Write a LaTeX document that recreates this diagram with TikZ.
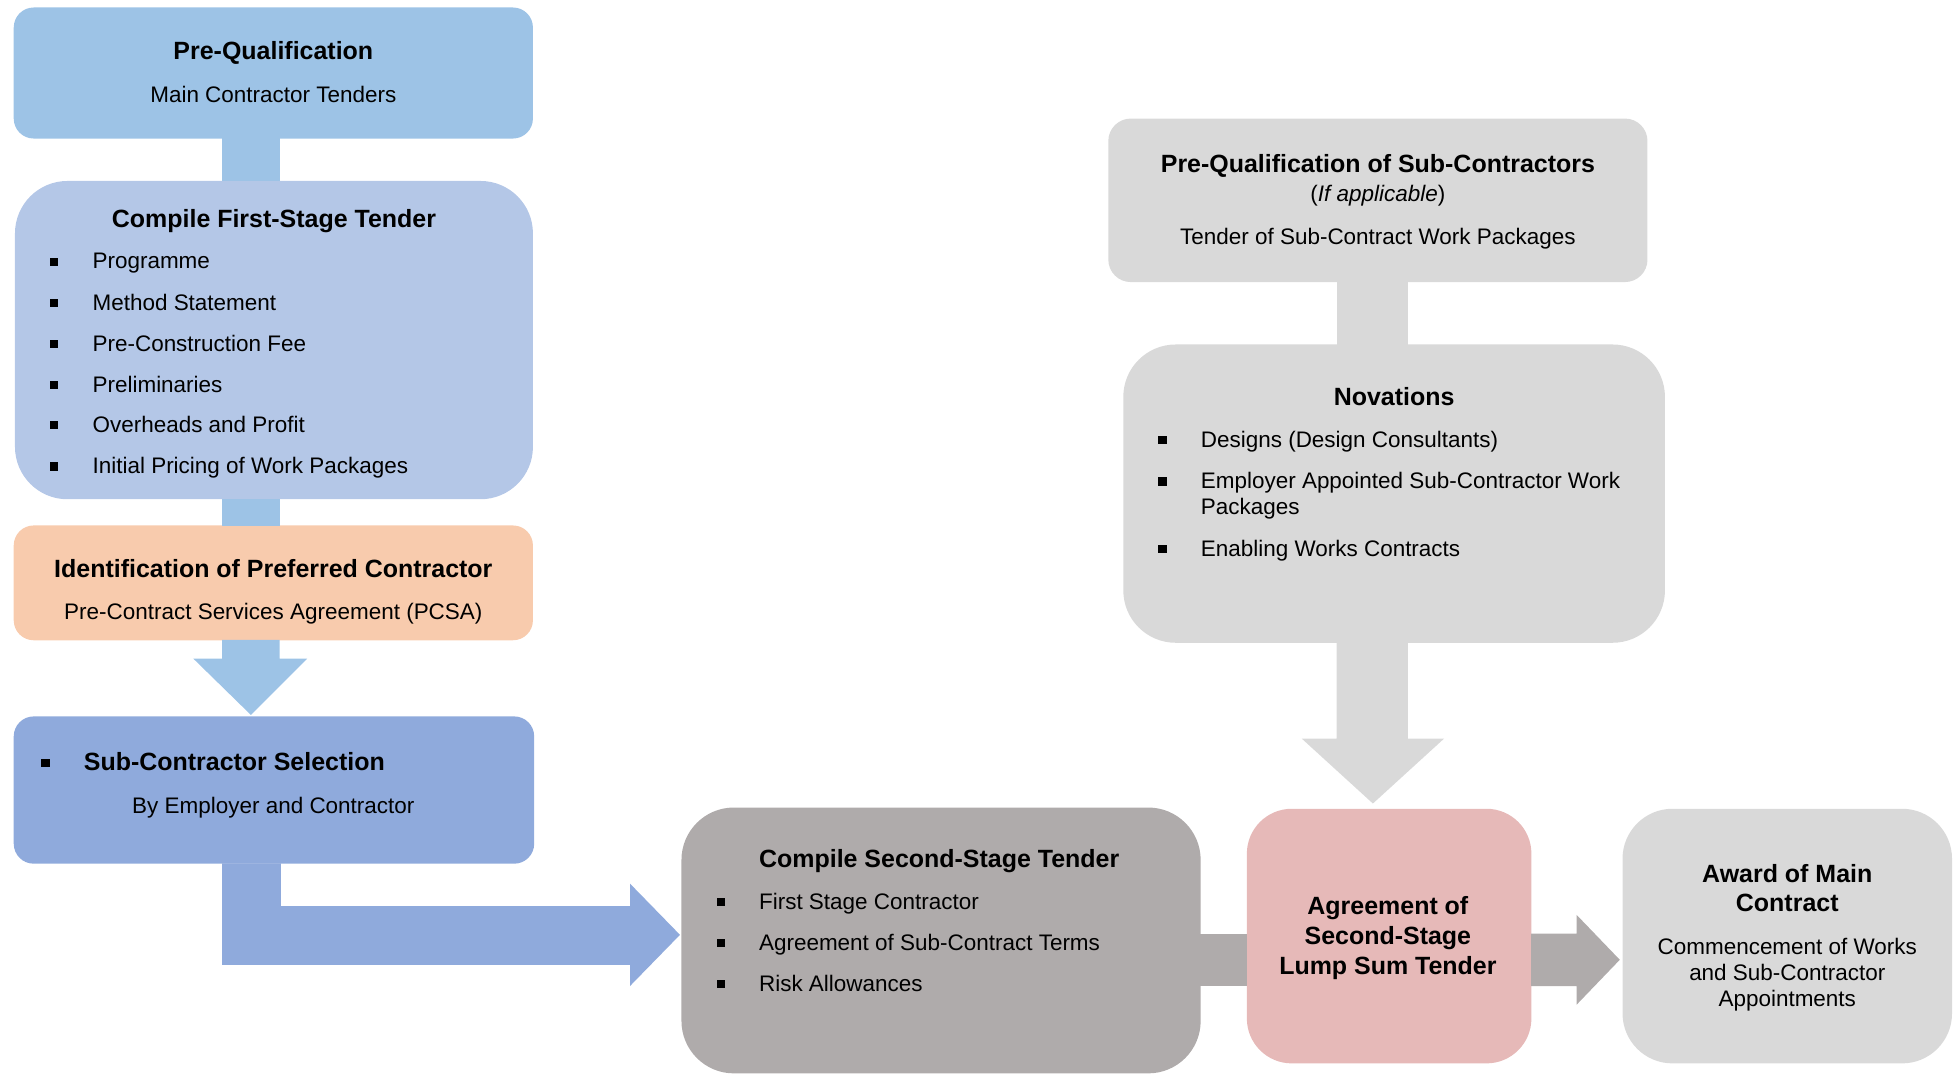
\documentclass[tikz,border=0pt]{standalone}
\usepackage{fontspec}
\setmainfont{Liberation Sans}
\usetikzlibrary{calc}
\definecolor{cPQ}{HTML}{9DC3E6}
\definecolor{cFS}{HTML}{B4C7E7}
\definecolor{cID}{HTML}{F8CBAD}
\definecolor{cSel}{HTML}{8FAADC}
\definecolor{cSec}{HTML}{AFABAB}
\definecolor{cAgr}{HTML}{E6B9B8}
\definecolor{cLG}{HTML}{D9D9D9}
\newcommand\bul{\makebox[34pt][l]{\raisebox{2.5pt}{\rule{6.5pt}{6.5pt}}}}
\begin{document}
\begin{tikzpicture}[x=1pt,y=-1pt,
 box/.style={rectangle, inner sep=0pt, draw=none},
 sm/.style={rounded corners=16pt},
 lg/.style={rounded corners=42pt},
 ttl/.style={inner sep=0pt, anchor=base, font=\fontsize{20}{24}\selectfont\bfseries},
 txt/.style={inner sep=0pt, anchor=base, font=\fontsize{18}{21}\selectfont},
 itm/.style={inner sep=0pt, anchor=base west, font=\fontsize{18}{21}\selectfont},
]
\useasboundingbox (0,0) rectangle (1568,862);
% boxes
\node[box, sm, fill=cPQ, minimum width=416pt, minimum height=105pt] (pq) at (219,58.5) {};
\node[box, lg, fill=cFS, minimum width=415pt, minimum height=255pt] (fs) at (219.5,272.5) {};
\node[box, sm, fill=cID, minimum width=416pt, minimum height=92pt] (id) at (219,467) {};
\node[box, sm, fill=cSel, minimum width=417pt, minimum height=118pt] (sel) at (219.5,633) {};
\node[box, lg, fill=cSec, minimum width=416pt, minimum height=213pt] (sec) at (754,753.5) {};
\node[box, rounded corners=36pt, fill=cAgr, minimum width=228pt, minimum height=204pt] (agr) at (1113,750) {};
\node[box, rounded corners=40pt, fill=cLG, minimum width=264pt, minimum height=204pt] (awd) at (1432,750) {};
\node[box, rounded corners=18pt, fill=cLG, minimum width=432pt, minimum height=131pt] (pqs) at (1104,160.5) {};
\node[box, lg, fill=cLG, minimum width=434pt, minimum height=239pt] (nov) at (1117,395.5) {};
% connectors
\fill[cPQ] ($(pq.south)+(-41,-0.5)$) rectangle ($(fs.north)+(4.5,0.5)$);
\fill[cPQ] ($(fs.south)+(-41.5,-0.5)$) rectangle ($(id.north)+(5,0.5)$);
\fill[cPQ] ($(id.south)+(-41,-0.5)$) -- ($(id.south)+(5,-0.5)$) -- ($(sel.north)+(4.5,-46)$)
  -- ($(sel.north)+(26.5,-46)$) -- ($(sel.north)+(-18.5,-1)$) -- ($(sel.north)+(-64.5,-46)$)
  -- ($(sel.north)+(-41.5,-46)$) -- cycle;
\coordinate (etip) at ($(sec.west)+(-1,-4.5)$);
\coordinate (e1) at ($(sel.south)+(5.5,0)$);
\coordinate (e2) at ($(etip)+(0,-23)$);
\coordinate (e3) at ($(sel.south)+(-41.5,0)$);
\coordinate (e4) at ($(etip)+(0,24)$);
\fill[cSel] ($(sel.south)+(-41.5,-0.5)$) -- (e3 |- e4) -- ($(etip)+(-40,24)$) -- ($(etip)+(-40,41)$)
  -- (etip) -- ($(etip)+(-40,-41)$) -- ($(etip)+(-40,-23)$) -- (e1 |- e2)
  -- ($(sel.south)+(5.5,-0.5)$) -- cycle;
\fill[cSec] ($(sec.east)+(-0.5,-5.5)$) rectangle ($(agr.west)+(0.5,40)$);
\fill[cSec] ($(agr.east)+(-0.5,-2)$) -- ($(agr.east)+(36,-2)$) -- ($(agr.east)+(36,-17)$)
  -- ($(awd.west)+(-2,19)$) -- ($(agr.east)+(36,55)$) -- ($(agr.east)+(36,40)$)
  -- ($(agr.east)+(-0.5,40)$) -- cycle;
\fill[cLG] ($(pqs.south)+(-33,-0.5)$) rectangle ($(nov.north)+(11,0.5)$);
\fill[cLG] ($(nov.south)+(-46,-0.5)$) -- ($(nov.south)+(11,-0.5)$) -- ($(agr.north)+(15,-56)$)
  -- ($(agr.north)+(44,-56)$) -- ($(agr.north)+(-13,-4)$) -- ($(agr.north)+(-70,-56)$)
  -- ($(agr.north)+(-42,-56)$) -- cycle;
% texts
\node[ttl] (t1) at (219,48) {Pre-Qualification};
\node[txt] (t2) at (219,82.5) {Main Contractor Tenders};
\node[ttl] (t3) at (219.5,182) {Compile First-Stage Tender};
\node[itm] (b1) at (40,215.5) {\bul Programme};
\node[itm] (b2) at (40,248.5) {\bul Method Statement};
\node[itm] (b3) at (40,281.5) {\bul Pre-Construction Fee};
\node[itm] (b4) at (40,314.5) {\bul Preliminaries};
\node[itm] (b5) at (40,346.5) {\bul Overheads and Profit};
\node[itm] (b6) at (40,379.5) {\bul Initial Pricing of Work Packages};
\node[ttl] (t4) at (219,463) {Identification of Preferred Contractor};
\node[txt] (t5) at (219,496.5) {Pre-Contract Services Agreement (PCSA)};
\node[itm, font=\fontsize{20}{24}\selectfont\bfseries] (t6) at (33,617) {\bul Sub-Contractor Selection};
\node[txt] (t7) at (219,651.5) {By Employer and Contractor};
\node[ttl, anchor=base west] (t8) at (608,695) {Compile Second-Stage Tender};
\node[itm] (c1) at (574,728.5) {\bul First Stage Contractor};
\node[itm] (c2) at (574,761.5) {\bul Agreement of Sub-Contract Terms};
\node[itm] (c3) at (574,794.5) {\bul Risk Allowances};
\node[ttl] (a1) at (1112,733) {Agreement of};
\node[ttl] (a2) at (1112,757) {Second-Stage};
\node[ttl] (a3) at (1112,781) {Lump Sum Tender};
\node[ttl] (w1) at (1432,707) {Award of Main};
\node[ttl] (w2) at (1432,730) {Contract};
\node[txt] (w3) at (1432,764.5) {Commencement of Works};
\node[txt] (w4) at (1432,785.5) {and Sub-Contractor};
\node[txt] (w5) at (1432,806.5) {Appointments};
\node[ttl] (p1) at (1104,138) {Pre-Qualification of Sub-Contractors};
\node[txt] (p2) at (1104,161.5) {(\textit{If applicable})};
\node[txt] (p3) at (1104,195.5) {Tender of Sub-Contract Work Packages};
\node[ttl] (n1) at (1117,325) {Novations};
\node[itm] (n2) at (928,358.5) {\bul Designs (Design Consultants)};
\node[itm] (n3) at (928,391.5) {\bul Employer Appointed Sub-Contractor Work};
\node[itm] (n4) at (962,412.5) {Packages};
\node[itm] (n5) at (928,445.5) {\bul Enabling Works Contracts};
\end{tikzpicture}
\end{document}
